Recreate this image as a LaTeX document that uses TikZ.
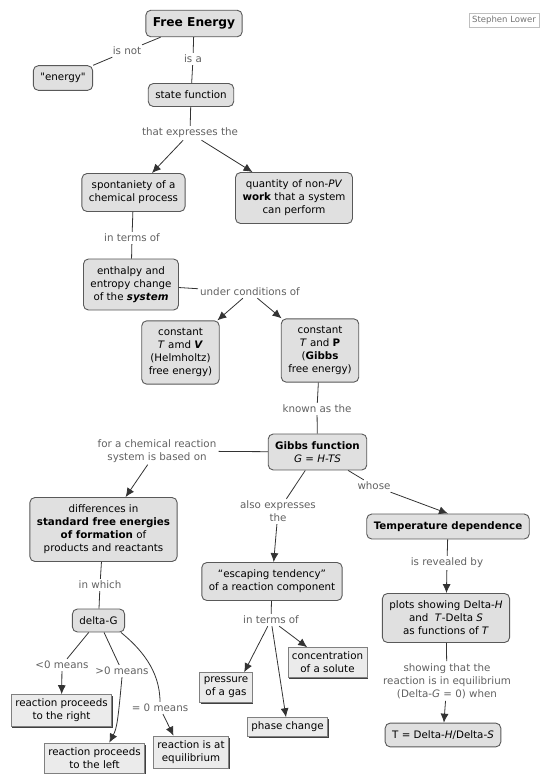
\documentclass[tikz,border=0pt]{standalone}
\usepackage{fontspec}
\setmainfont{DejaVu Sans}[Ligatures=TeXOff]
\usepackage{tikz}
\usetikzlibrary{arrows.meta, shadows}

\begin{document}
\begin{tikzpicture}[x=1pt, y=-1pt,
  concept/.style={draw=black!65, line width=0.9pt, fill=black!12, rounded corners=5pt, align=center, inner xsep=7pt, inner ysep=7.5pt, font=\fontsize{10.3}{13}\selectfont},
  leaf/.style={draw=black!50, line width=0.6pt, fill=black!8, align=center, inner xsep=4pt, inner ysep=4.5pt, font=\fontsize{10.3}{13}\selectfont, drop shadow={shadow xshift=1.2pt, shadow yshift=-1.5pt, fill=black!75, opacity=1}},
  linkword/.style={text=black!62, align=center, inner sep=2pt, font=\fontsize{10.3}{13}\selectfont},
  author/.style={draw=black!25, line width=0.5pt, text=black!55, inner xsep=3pt, inner ysep=3pt, font=\fontsize{8.5}{10}\selectfont},
  link/.style={draw=black!80, line width=0.8pt},
  arr/.style={link, -{Latex[length=9pt, width=8pt]}}]
\useasboundingbox (0,0) rectangle (543,777);
\node[concept, font=\bfseries\fontsize{12.2}{14}\selectfont] (fe) at (194,23.5) {Free Energy};
\node[author] (sl) at (504,20.5) {Stephen Lower};
\node[concept] (en) at (63,78) {"energy"};
\node[concept] (sf) at (191,95) {state function};
\node[concept] (sp) at (133.5,192.5) {spontaniety of a\\chemical process};
\node[concept] (qu) at (294,198) {quantity of non-\textit{PV}\\\textbf{work} that a system\\can perform};
\node[concept] (eh) at (131,284.5) {enthalpy and\\entropy change\\of the \textbf{\textit{system}}};
\node[concept] (tv) at (180.5,352.5) {constant\\\textit{T} amd \textbf{\textit{V}}\\(Helmholtz)\\free energy)};
\node[concept] (tp) at (320,350.5) {constant\\\textit{T} and \textbf{P}\\(\textbf{Gibbs}\\free energy)};
\node[concept] (gf) at (317.5,452) {\textbf{Gibbs function}\\\textit{G} = \textit{H-TS}};
\node[concept] (df) at (103.5,529.5) {differences in\\\textbf{standard free energies}\\\textbf{of formation} of\\products and reactants};
\node[concept] (td) at (448,526.5) {\textbf{Temperature dependence}};
\node[concept] (et) at (272,581.5) {“escaping tendency”\\of a reaction component};
\node[concept] (dg) at (98.5,620.5) {delta-G};
\node[concept] (pl) at (446,618) {plots showing Delta-\textit{H}\\and \ \textit{T}-Delta \textit{S}\\as functions of \textit{T}};
\node[concept] (ts) at (443,735) {T = Delta-\textit{H}/Delta-\textit{S}};
\node[leaf] (pg) at (226,687.5) {pressure\\of a gas};
\node[leaf] (cs) at (327.5,662.5) {concentration\\of a solute};
\node[leaf] (pc) at (287.5,727) {phase change};
\node[leaf] (rr) at (61.5,710.5) {reaction proceeds\\to the right};
\node[leaf] (rl) at (94.5,758) {reaction proceeds\\to the left};
\node[leaf] (re) at (191,752) {reaction is at\\equilibrium};
\node[linkword] (isnot) at (127,51) {is not};
\node[linkword] (isa) at (193,59) {is a};
\node[linkword] (expr) at (190,133) {that expresses the};
\node[linkword] (terms) at (132,238) {in terms of};
\node[linkword] (cond) at (250,292) {under conditions of};
\node[linkword] (known) at (317,409) {known as the};
\node[linkword] (based) at (157,451) {for a chemical reaction\\system is based on};
\node[linkword] (whose) at (374,486) {whose};
\node[linkword] (also) at (278,511.5) {also expresses\\the};
\node[linkword] (which) at (100,585) {in which};
\node[linkword] (reveal) at (447,563) {is revealed by};
\node[linkword] (terms2) at (271,620) {in terms of};
\node[linkword] (showing) at (447,681) {showing that the\\reaction is in equilibrium\\(Delta-\textit{G} = 0) when};
\node[linkword] (lt) at (62,665) {<0 means};
\node[linkword] (gt) at (122,671) {>0 means};
\node[linkword] (eq) at (160,708) {= 0 means};
\draw[link] (fe) -- (isnot);
\draw[link] (isnot) -- (en);
\draw[link] (fe) -- (isa);
\draw[link] (isa) -- (sf);
\draw[link] (sf) -- (expr);
\draw[arr] (expr) -- (sp);
\draw[arr] (expr) -- (qu);
\draw[link] (sp) -- (terms);
\draw[link] (terms) -- (eh);
\draw[link] (eh) -- (cond);
\draw[arr] (cond) -- (tv);
\draw[arr] (cond) -- (tp);
\draw[link] (tp) -- (known);
\draw[link] (known) -- (gf);
\draw[link] (gf) -- (based);
\draw[arr] (based) -- (df);
\draw[link] (gf) -- (whose);
\draw[arr] (whose) -- (td.north);
\draw[link] (gf) -- (also);
\draw[arr] (also) -- (et);
\draw[link] (df) -- (which);
\draw[link] (which) -- (dg);
\draw[link] (td) -- (reveal);
\draw[arr] (reveal) -- (pl);
\draw[link] (et) -- (terms2);
\draw[arr] (terms2) -- (pg.40);
\draw[arr] (terms2) -- (cs);
\draw[arr] (terms2) -- (pc);
\draw[link] (pl) -- (showing);
\draw[arr] (showing) -- (ts);
\draw[link] (dg) -- (lt);
\draw[arr] (lt) -- (rr);
\draw[link] (dg) -- (gt);
\draw[arr] (gt.south) .. controls (118,720) and (117,728) .. (rl.46);
\draw[link] (dg.-28) .. controls (140,648) and (160,670) .. (eq.north);
\draw[arr] (eq) -- (re.137);
\end{tikzpicture}
\end{document}
